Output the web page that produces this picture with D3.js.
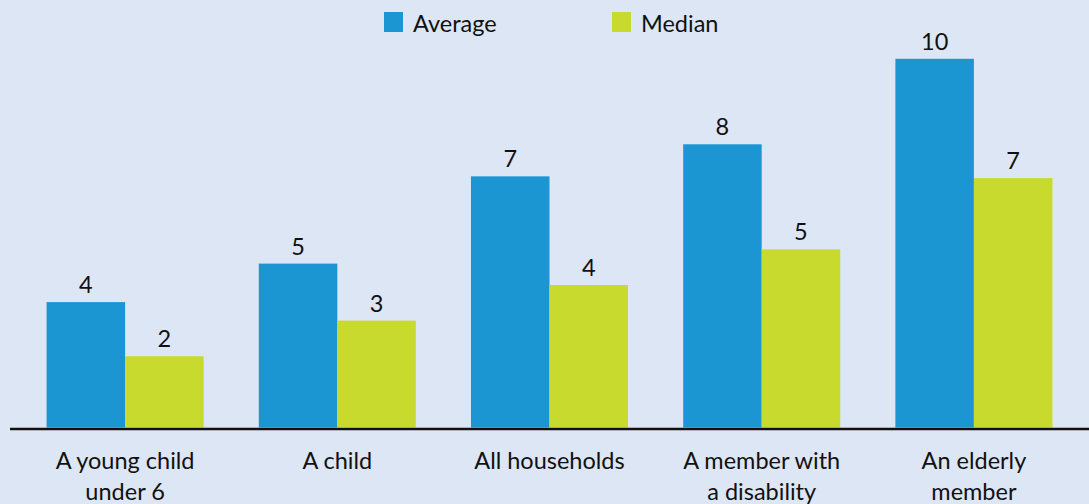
<!DOCTYPE html>
<html>
<head>
<meta charset="utf-8">
<script src="https://cdn.jsdelivr.net/npm/d3@7"></script>
<style>
  html, body { margin: 0; padding: 0; background: #dde6f4; }
  svg { display: block; font-family: Lato, "Open Sans", sans-serif; }
</style>
</head>
<body>
<div id="chart"></div>
<script>
const categories = [
  ["A young child", "under 6"],
  ["A child"],
  ["All households"],
  ["A member with", "a disability"],
  ["An elderly", "member"]
];
const seriesNames = ["Average", "Median"];
const averageValues = [3.52, 4.6, 7.05, 7.95, 10.35];
const medianValues = [2, 3, 4, 5, 7];
const colors = ["#1b96d2", "#c8da2e"];

const width = 1089, height = 504;
const baseline = 427.5;

const svg = d3.select("#chart").append("svg")
    .attr("width", width)
    .attr("height", height);

svg.append("rect")
    .attr("width", width)
    .attr("height", height)
    .attr("fill", "#dde6f4");

const keys = categories.map((d, i) => i);

const x0 = d3.scaleBand()
    .domain(keys)
    .range([19, 1080])
    .paddingInner(0.26)
    .paddingOuter(0.13);

const x1 = d3.scaleBand()
    .domain(seriesNames)
    .range([0, x0.bandwidth()]);

const y = d3.scaleLinear()
    .domain([0, 12])
    .range([baseline, 0]);

const color = d3.scaleOrdinal().domain(seriesNames).range(colors);

const rows = keys.map(i => ({
  key: i,
  values: [
    { name: "Average", value: averageValues[i] },
    { name: "Median", value: medianValues[i] }
  ]
}));

const groups = svg.append("g")
    .selectAll("g")
    .data(rows)
    .join("g")
    .attr("transform", d => `translate(${x0(d.key)},0)`);

groups.selectAll("rect")
    .data(d => d.values)
    .join("rect")
    .attr("x", d => x1(d.name))
    .attr("y", d => y(d.value))
    .attr("width", x1.bandwidth())
    .attr("height", d => y(0) - y(d.value))
    .attr("fill", d => color(d.name));

const fmt = d3.format(".0f");
groups.selectAll("text")
    .data(d => d.values)
    .join("text")
    .attr("x", d => x1(d.name) + x1.bandwidth() / 2)
    .attr("y", d => y(d.value) - 9)
    .attr("text-anchor", "middle")
    .attr("font-size", 23.5)
    .attr("fill", "#111")
    .text(d => fmt(d.value));

// x axis: a plain line with two-line category labels
svg.append("line")
    .attr("x1", 10)
    .attr("x2", width)
    .attr("y1", baseline + 1.5)
    .attr("y2", baseline + 1.5)
    .attr("stroke", "#111")
    .attr("stroke-width", 2.5);

const labels = svg.append("g")
    .selectAll("text")
    .data(keys)
    .join("text")
    .attr("x", d => x0(d) + x0.bandwidth() / 2)
    .attr("y", 469)
    .attr("text-anchor", "middle")
    .attr("font-size", 23.5)
    .attr("fill", "#111");

labels.selectAll("tspan")
    .data(d => categories[d])
    .join("tspan")
    .attr("x", function() { return this.parentNode.getAttribute("x"); })
    .attr("dy", (d, i) => i === 0 ? 0 : 31)
    .text(d => d);

// legend
const legendX = [384, 612];
const legend = svg.append("g")
    .selectAll("g")
    .data(seriesNames)
    .join("g")
    .attr("transform", (d, i) => `translate(${legendX[i]},12)`);

legend.append("rect")
    .attr("width", 19)
    .attr("height", 20)
    .attr("fill", d => color(d));

legend.append("text")
    .attr("x", 29)
    .attr("y", 20)
    .attr("font-size", 23.5)
    .attr("fill", "#111")
    .text(d => d);
</script>
</body>
</html>
